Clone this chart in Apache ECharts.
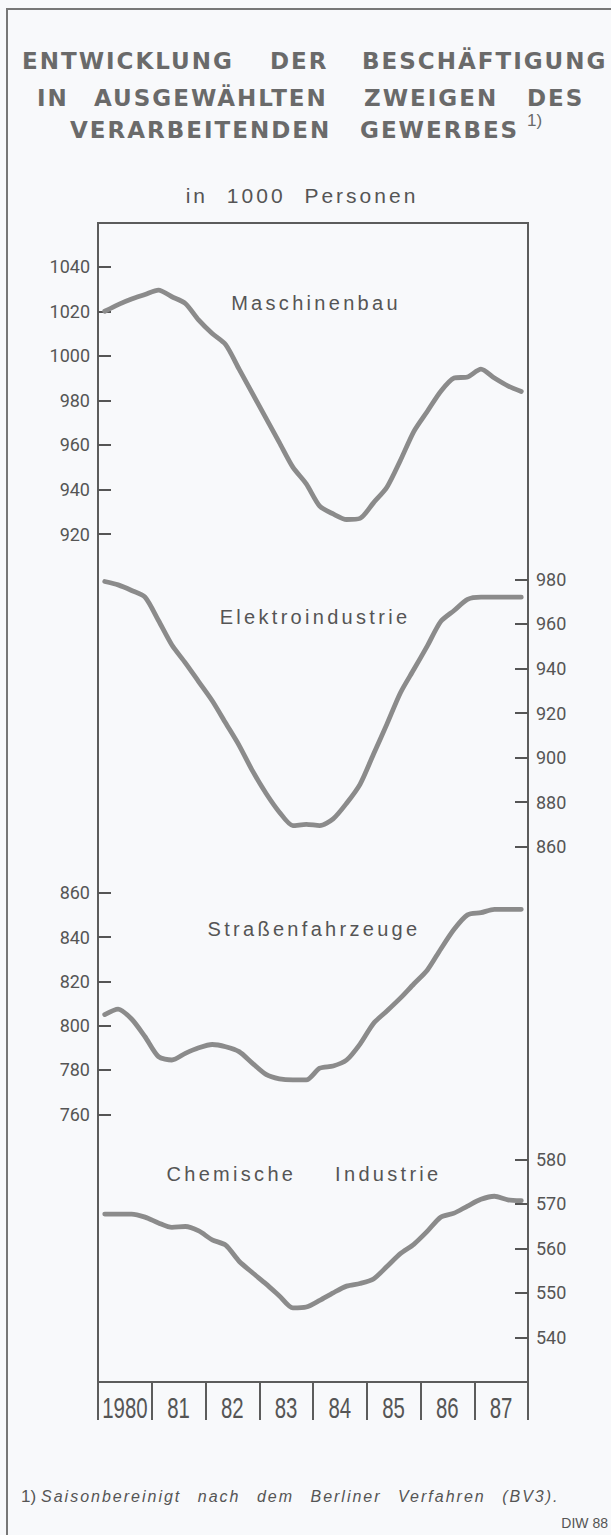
<!DOCTYPE html>
<html>
<head>
<meta charset="utf-8">
<title>Entwicklung der Beschäftigung</title>
<script src="https://cdn.jsdelivr.net/npm/echarts@6/dist/echarts.min.js"></script>
<style>
  html, body { margin: 0; padding: 0; background: #f8f9fb; }
  #chart { width: 611px; height: 1535px; }
  /* gesperrte Schablonenschrift wie im Original */
  #chart text[style*="DejaVu Sans"] { letter-spacing: 2px; }
  #chart text[style*="20px"] { letter-spacing: 3.3px; word-spacing: 30px; }
  #chart text[style*="21px"] { letter-spacing: 3px; word-spacing: 10px; }
  #chart text[style*="16px"] { letter-spacing: 2px; word-spacing: 10px; }
</style>
</head>
<body>
<div id="chart"></div>
<script>
// Jahre (Achse) und Quartale (Daten)
const years = ['1980', '81', '82', '83', '84', '85', '86', '87'];
const quarters = [];
years.forEach(y => ['I', 'II', 'III', 'IV'].forEach(q => quarters.push(y + '/' + q)));

const branchen = ['Maschinenbau', 'Elektroindustrie', 'Straßenfahrzeuge', 'Chemische Industrie'];

// in 1000 Personen, saisonbereinigt, quartalsweise
const maschinenbau = [1020, 1023, 1025.5, 1027.5, 1029.5, 1026.5, 1023.5, 1016, 1010, 1005, 994, 983,
  972, 961, 950, 942.5, 932.5, 929, 926.5, 927, 934, 941, 953, 966,
  975, 984, 990, 990.5, 994, 990, 986.5, 984];
const elektro = [979, 977.5, 975, 972, 961.5, 950.5, 942.5, 934, 925.5, 915.5, 905.5, 894,
  884, 875.5, 869.5, 870, 869.5, 872.5, 879.5, 888, 901.5, 915, 929, 939.5,
  950, 961, 966, 971, 972, 972, 972, 972];
const strassenfahrzeuge = [805, 807.5, 803, 795, 786, 784.5, 787.5, 790, 791.5, 790.5, 788.3, 783,
  778, 776, 775.5, 775.5, 780.8, 781.8, 784.5, 791.7, 801, 806.6, 812.4, 818.8,
  825, 834.5, 843.5, 850, 851, 852.5, 852.5, 852.5];
const chemie = [567.7, 567.7, 567.7, 567, 565.7, 564.7, 564.9, 563.9, 561.9, 560.7, 557.1, 554.5,
  552, 549.3, 546.6, 546.8, 548.3, 550, 551.5, 552.1, 553.1, 555.9, 558.8, 560.9,
  563.8, 567, 567.9, 569.5, 571, 571.7, 570.9, 570.7];

// Skalen
const ticksMaschinenbau = [920, 940, 960, 980, 1000, 1020, 1040];
const ticksElektro = [860, 880, 900, 920, 940, 960, 980];
const ticksStrasse = [760, 780, 800, 820, 840, 860];
const ticksChemie = [540, 550, 560, 570, 580];

const seriesData = [maschinenbau, elektro, strassenfahrzeuge, chemie];
const tickSets = [ticksMaschinenbau, ticksElektro, ticksStrasse, ticksChemie];

// Titelzeilen, Wort für Wort (Sperrsatz des Originals)
const titleWords = [
  [['ENTWICKLUNG', 22], ['DER', 270], ['BESCHÄFTIGUNG', 362]],
  [['IN', 37], ['AUSGEWÄHLTEN', 94], ['ZWEIGEN', 364], ['DES', 527]],
  [['VERARBEITENDEN', 70], ['GEWERBES', 360]]
];
const titleLineY = [61, 98, 129.5];

// Lage der Teilflächen im Rahmen
const plotLeft = 98, plotWidth = 430, boxTop = 223, boxBottom = 1382;
const panels = [
  { top: 266.7, height: 267.3, side: 'left', labelX: 316, labelY: 303 },
  { top: 579.3, height: 267.4, side: 'right', labelX: 315, labelY: 617 },
  { top: 892.7, height: 221.6, side: 'left', labelX: 314, labelY: 929 },
  { top: 1159.3, height: 178, side: 'right', labelX: 304, labelY: 1174 }
];

const textColor = '#555';
const lineColor = '#8b8b8b';
const frameColor = '#5c5c5c';

const chart = echarts.init(document.getElementById('chart'), null, { renderer: 'svg' });

const grids = [{
  left: plotLeft, width: plotWidth, top: boxTop, height: boxBottom - boxTop,
  show: true, borderColor: frameColor, borderWidth: 2, backgroundColor: 'transparent'
}];
const xAxes = [{
  gridIndex: 0, type: 'category', data: years, position: 'bottom', boundaryGap: true,
  axisLine: { show: true, lineStyle: { color: frameColor, width: 2 } },
  axisTick: { show: true, interval: 0, length: 38, lineStyle: { color: frameColor, width: 2 } },
  // Jahreszahlen werden unten schmal gesetzt (graphic), hier nur Striche
  axisLabel: { show: false },
  splitLine: { show: false }
}];
const yAxes = [{ gridIndex: 0, type: 'value', show: false }];
const series = [];

panels.forEach((p, i) => {
  const ticks = tickSets[i];
  grids.push({ left: plotLeft, width: plotWidth, top: p.top, height: p.height });
  xAxes.push({ gridIndex: i + 1, type: 'category', data: quarters, boundaryGap: true, show: false });
  yAxes.push({
    gridIndex: i + 1, type: 'value', position: p.side,
    min: ticks[0], max: ticks[ticks.length - 1], interval: ticks[1] - ticks[0],
    axisLine: { show: false },
    axisTick: { show: true, inside: true, length: 13, lineStyle: { color: textColor, width: 2 } },
    axisLabel: {
      color: textColor, fontSize: 18, fontFamily: 'Roboto', margin: 8,
      formatter: v => String(v)
    },
    splitLine: { show: false }
  });
  series.push({
    name: branchen[i], type: 'line', xAxisIndex: i + 1, yAxisIndex: i + 1,
    data: seriesData[i], showSymbol: false, smooth: 0.25,
    lineStyle: { color: lineColor, width: 4.8, cap: 'round', join: 'round' }
  });
});

const graphics = [
  // äußerer Rahmen
  { type: 'polyline', shape: { points: [[7, 1535], [7, 9], [611, 9]] },
    style: { stroke: '#777', lineWidth: 2, fill: null } },
  { type: 'text', x: 527, y: 120, style: { text: '1)', fontSize: 17, fontFamily: 'Liberation Sans', fill: '#6a6a6a', textAlign: 'left', textVerticalAlign: 'middle' } },
  { type: 'text', x: 302, y: 195, style: { text: 'in 1000 Personen', fontSize: 21, fontFamily: 'Liberation Sans', fill: textColor, textAlign: 'center', textVerticalAlign: 'middle' } },
  // Fußnote
  { type: 'text', x: 21, y: 1496, style: { text: '1)', fontSize: 17, fontFamily: 'Liberation Sans', fill: textColor, textAlign: 'left', textVerticalAlign: 'middle' } },
  { type: 'text', x: 41, y: 1496, style: { text: 'Saisonbereinigt nach dem Berliner Verfahren (BV3).', fontSize: 16, fontStyle: 'italic', fontFamily: 'Liberation Sans', fill: textColor, textAlign: 'left', textVerticalAlign: 'middle' } },
  { type: 'text', x: 608, y: 1523, style: { text: 'DIW 88', fontSize: 14, fontFamily: 'Liberation Sans', fill: textColor, textAlign: 'right', textVerticalAlign: 'middle' } }
];
titleWords.forEach((line, li) => {
  line.forEach(([word, x]) => {
    graphics.push({ type: 'text', x: x, y: titleLineY[li], style: {
      text: word, fontSize: 23, fontWeight: 'bold', fontFamily: 'DejaVu Sans', fill: '#6a6a6a',
      textAlign: 'left', textVerticalAlign: 'middle' } });
  });
});
panels.forEach((p, i) => {
  graphics.push({ type: 'text', x: p.labelX, y: p.labelY, style: {
    text: branchen[i], fontSize: 20, fontFamily: 'Liberation Sans', fill: textColor,
    textAlign: 'center', textVerticalAlign: 'middle' } });
});

chart.setOption({
  animation: false,
  backgroundColor: '#f8f9fb',
  grid: grids,
  xAxis: xAxes,
  yAxis: yAxes,
  series: series
});

// Jahreszahlen: Lage aus der Kategorieachse, schmal gestaucht wie im Original
years.forEach(y => {
  const px = chart.convertToPixel({ xAxisIndex: 0 }, y);
  graphics.push({ type: 'text', x: px, y: 1407, scaleX: 0.68, style: {
    text: y, fontSize: 30, fontFamily: 'Liberation Sans', fill: textColor,
    textAlign: 'center', textVerticalAlign: 'middle' } });
});
chart.setOption({ graphic: graphics });
</script>
</body>
</html>
